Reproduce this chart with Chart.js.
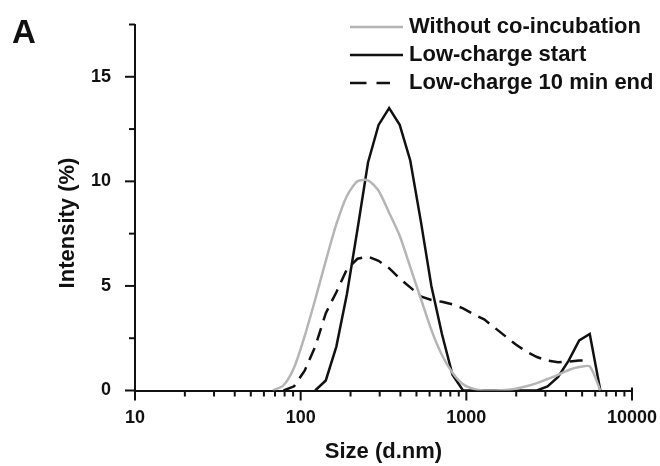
<!DOCTYPE html>
<html><head><meta charset="utf-8">
<script src="https://cdn.jsdelivr.net/npm/chart.js@4.4.1/dist/chart.umd.min.js"></script>
<style>html,body{margin:0;padding:0;background:#fff;} canvas{display:block;}</style>
</head><body>
<canvas id="c" width="660" height="466"></canvas>
<script>
// ---- data ----
const sizes = [68.06, 78.82, 91.28, 105.7, 122.4, 141.8, 164.2, 190.1, 220.2, 255.0, 295.3, 342.0, 396.1, 458.7, 531.2, 615.1, 712.4, 825.0, 955.4, 1106, 1281, 1484, 1718, 1990, 2305, 2669, 3091, 3580, 4145, 4801, 5560, 6439];
const withoutCoIncubation = [0, 0.25, 1.1, 2.6, 4.35, 6.2, 7.95, 9.3, 10.0, 10.05, 9.55, 8.5, 7.4, 5.9, 4.4, 2.9, 1.7, 0.85, 0.3, 0.08, 0, 0, 0.02, 0.08, 0.2, 0.35, 0.55, 0.75, 0.98, 1.12, 1.15, 0];
const lowChargeStart = [null, null, null, null, 0, 0.48, 2.1, 4.6, 7.7, 10.9, 12.7, 13.5, 12.7, 11.0, 8.1, 5.0, 2.7, 0.75, 0, 0, 0, 0, 0, 0, 0, 0, 0.2, 0.65, 1.43, 2.4, 2.7, 0];
const lowCharge10MinEnd = [null, 0, 0.2, 0.95, 2.1, 3.7, 4.7, 5.8, 6.3, 6.4, 6.2, 5.85, 5.35, 4.93, 4.5, 4.33, 4.24, 4.12, 3.93, 3.65, 3.4, 3.0, 2.6, 2.2, 1.85, 1.6, 1.43, 1.35, 1.38, 1.43, 1.43, null];
const seriesLabels = ['Without co-incubation', 'Low-charge start', 'Low-charge 10 min end'];
const xTickValues = [10, 100, 1000, 10000];
const yTickValues = [0, 5, 10, 15];
const xTitle = 'Size (d.nm)';
const yTitle = 'Intensity (%)';
const panelLabel = 'A';

const FONT = "'Liberation Sans', Arial, Helvetica, sans-serif";
const INK = '#111111';

function toPoints(vals) {
  const out = [];
  sizes.forEach((s, i) => { if (vals[i] !== null) out.push({ x: s, y: vals[i] }); });
  return out;
}

const decor = {
  id: 'decor',
  afterDraw(chart) {
    const { ctx, chartArea: ca, scales: { x, y } } = chart;
    ctx.save();
    ctx.strokeStyle = INK; ctx.lineWidth = 2; ctx.lineCap = 'butt';
    for (let v = 0; v <= 17.5 + 1e-9; v += 2.5) {
      const py = y.getPixelForValue(v);
      const len = (Math.abs(v % 5) < 1e-9) ? 10 : 6;
      ctx.beginPath(); ctx.moveTo(ca.left - len, py); ctx.lineTo(ca.left, py); ctx.stroke();
    }
    for (let d = 10; d < 10000; d *= 10) {
      for (let m = 1; m <= 9; m++) {
        const px = x.getPixelForValue(d * m);
        const len = m === 1 ? 10 : 6;
        ctx.beginPath(); ctx.moveTo(px, ca.bottom); ctx.lineTo(px, ca.bottom + len); ctx.stroke();
      }
    }
    const pe = x.getPixelForValue(10000);
    ctx.beginPath(); ctx.moveTo(pe, ca.bottom - 3); ctx.lineTo(pe, ca.bottom + 10); ctx.stroke();

    ctx.fillStyle = INK;
    ctx.font = 'bold 22px ' + FONT;
    ctx.textAlign = 'center'; ctx.textBaseline = 'middle';
    ctx.save();
    ctx.translate(67.5, 223); ctx.rotate(-Math.PI / 2);
    ctx.fillText(yTitle, 0, 0);
    ctx.restore();

    ctx.font = 'bold 33px ' + FONT;
    ctx.textAlign = 'left'; ctx.textBaseline = 'alphabetic';
    ctx.fillText(panelLabel, 12, 43);

    const rows = [27, 55, 83];
    chart.data.datasets.forEach((ds, i) => {
      ctx.save();
      ctx.strokeStyle = ds.borderColor; ctx.lineWidth = ds.borderWidth;
      ctx.beginPath();
      if (ds.borderDash) {
        ctx.setLineDash([16.5, 10]);
        ctx.moveTo(350, rows[i]); ctx.lineTo(390, rows[i]);
      } else {
        ctx.moveTo(350, rows[i]); ctx.lineTo(403, rows[i]);
      }
      ctx.stroke();
      ctx.restore();
      ctx.fillStyle = INK;
      ctx.font = 'bold 22px ' + FONT;
      ctx.textAlign = 'left'; ctx.textBaseline = 'middle';
      ctx.fillText(ds.label, 409, rows[i]);
    });
    ctx.restore();
  }
};

new Chart(document.getElementById('c'), {
  type: 'line',
  data: {
    datasets: [
      { label: seriesLabels[0], data: toPoints(withoutCoIncubation), borderColor: '#b5b5b5', borderWidth: 2.5, pointRadius: 0, tension: 0.25, fill: false },
      { label: seriesLabels[1], data: toPoints(lowChargeStart), borderColor: INK, borderWidth: 2.5, pointRadius: 0, tension: 0, fill: false },
      { label: seriesLabels[2], data: toPoints(lowCharge10MinEnd), borderColor: INK, borderWidth: 2.5, borderDash: [13, 8], pointRadius: 0, tension: 0, fill: false }
    ]
  },
  options: {
    responsive: false, animation: false, devicePixelRatio: 1,
    layout: { padding: { left: 0, right: 28, top: 24.5, bottom: 0 } },
    plugins: { legend: { display: false }, tooltip: { enabled: false } },
    scales: {
      x: {
        type: 'logarithmic', min: 10, max: 10000,
        grid: { display: false },
        border: { display: true, color: INK, width: 2 },
        afterBuildTicks: s => { s.ticks = xTickValues.map(v => ({ value: v })); },
        ticks: { autoSkip: false, maxRotation: 0, padding: 9, color: INK, font: { family: FONT, size: 18, weight: 'bold' }, callback: v => String(v) },
        title: { display: true, text: xTitle, color: INK, font: { family: FONT, size: 22, weight: 'bold' }, padding: { top: 0, bottom: 1 } },
        afterFit: s => { s.height = 75.5; s.paddingLeft = 0; s.paddingRight = 0; }
      },
      y: {
        min: 0, max: 17.5,
        grid: { display: false },
        border: { display: true, color: INK, width: 2 },
        afterBuildTicks: s => { s.ticks = yTickValues.map(v => ({ value: v })); },
        ticks: { padding: 16, color: INK, font: { family: FONT, size: 18, weight: 'bold' } },
        afterFit: s => { s.width = 135; s.paddingTop = 0; s.paddingBottom = 0; }
      }
    }
  },
  plugins: [decor]
});
</script>
</body></html>
